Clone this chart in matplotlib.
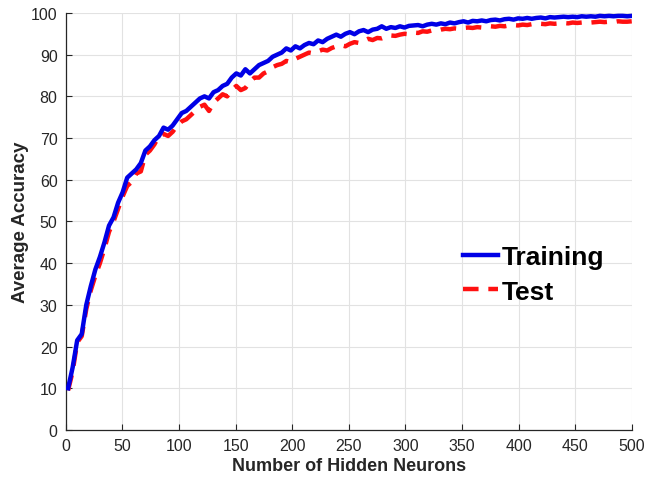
import numpy as np
import matplotlib
matplotlib.use("Agg")
import matplotlib.pyplot as plt

# Werte (Schrittweite ~4 Neuronen)
train_acc = [
    10.0, 15.0, 21.5, 23.0, 30.0, 34.5, 38.5, 41.5, 45.0, 49.0,
    51.0, 54.5, 57.0, 60.5, 61.5, 62.5, 64.0, 67.0, 68.0, 69.5,
    70.5, 72.5, 72.0, 73.0, 74.5, 76.0, 76.5, 77.5, 78.5, 79.5,
    80.0, 79.5, 81.0, 81.5, 82.5, 83.0, 84.5, 85.5, 85.0, 86.5,
    85.5, 86.5, 87.5, 88.0, 88.5, 89.5, 90.0, 90.5, 91.5, 91.0,
    92.0, 91.5, 92.3, 92.8, 92.5, 93.4, 93.0, 93.8, 94.3, 94.8,
    94.3, 95.0, 95.4, 94.9, 95.6, 95.9, 95.4, 96.0, 96.2, 96.8,
    96.2, 96.6, 96.4, 96.8, 96.5, 96.9, 97.0, 97.1, 96.8, 97.2,
    97.4, 97.2, 97.5, 97.3, 97.7, 97.5, 97.8, 98.0, 97.7, 98.1,
    98.0, 98.2, 98.0, 98.3, 98.4, 98.2, 98.5, 98.6, 98.4, 98.7,
    98.6, 98.8, 98.6, 98.8, 98.9, 98.7, 99.0, 98.9, 99.0, 99.1,
    99.0, 99.1, 99.0, 99.2, 99.1, 99.2, 99.1, 99.3, 99.2, 99.3,
    99.2, 99.3, 99.3, 99.2, 99.3,
]
test_acc = [
    9.5, 14.0, 21.0, 22.5, 29.0, 33.5, 37.0, 40.0, 43.5, 47.5,
    50.0, 53.0, 56.0, 58.5, 59.5, 61.5, 62.0, 66.0, 67.0, 68.5,
    70.5, 71.0, 70.5, 71.5, 73.0, 74.0, 74.5, 75.5, 76.5, 77.5,
    78.0, 76.5, 78.5, 79.5, 80.5, 80.0, 81.5, 82.5, 81.5, 82.0,
    83.5, 84.5, 84.5, 85.5, 86.0, 87.0, 87.5, 87.8, 88.5, 88.2,
    89.0, 89.5, 90.0, 90.5, 90.3, 90.8, 91.2, 91.0, 91.6, 92.0,
    92.3, 92.0, 92.6, 93.0, 92.8, 93.3, 93.8, 93.5, 94.0, 93.9,
    94.3, 94.6, 94.5, 94.8, 95.0, 94.9, 95.3, 95.2, 95.6, 95.5,
    95.8, 95.7, 96.0, 96.2, 96.1, 96.3, 96.2, 96.4, 96.5, 96.4,
    96.6, 96.5, 96.7, 96.8, 96.7, 96.9, 96.8, 97.0, 97.1, 97.0,
    97.2, 97.1, 97.3, 97.2, 97.4, 97.3, 97.5, 97.4, 97.5, 97.6,
    97.5, 97.7, 97.6, 97.7, 97.8, 97.7, 97.8, 97.9, 97.8, 97.9,
    97.8, 98.0, 97.9, 97.9, 98.0,
]
neurons = np.linspace(2, 500, len(train_acc))

plt.rcParams["font.family"] = ["Liberation Sans", "DejaVu Sans"]

fig = plt.figure(figsize=(6.65, 4.81), dpi=100)
ax = fig.add_axes([0.099, 0.104, 0.851, 0.867])

ax.plot(neurons, train_acc, color="#0000e6", lw=3.2, label="Training", zorder=3)
ax.plot(neurons, test_acc, color="#ff1010", lw=3.2, ls=(0, (3.5, 2.2)),
        label="Test", zorder=2)

ax.set_xlim(0, 500)
ax.set_ylim(0, 100)
ax.set_xticks(np.arange(0, 501, 50))
ax.set_yticks(np.arange(0, 101, 10))
ax.grid(True, color="#e2e2e2", lw=0.8)
ax.set_axisbelow(True)

for s in ["top", "right"]:
    ax.spines[s].set_visible(False)
for s in ["left", "bottom"]:
    ax.spines[s].set_color("#262626")
    ax.spines[s].set_linewidth(0.9)
ax.tick_params(direction="in", length=4, colors="#262626", labelsize=11.5, pad=6)

ax.set_xlabel("Number of Hidden Neurons", fontsize=13, fontweight="bold",
              color="#262626", labelpad=3)
ax.set_ylabel("Average Accuracy", fontsize=13.5, fontweight="bold",
              color="#262626", labelpad=1)

leg = ax.legend(loc="center left", bbox_to_anchor=(0.701, 0.373), frameon=False,
                prop={"weight": "bold", "size": 19}, handlelength=1.35,
                handletextpad=0.15, labelspacing=0.4, borderaxespad=0,
                borderpad=0)

fig.savefig("out.png", dpi=100)
